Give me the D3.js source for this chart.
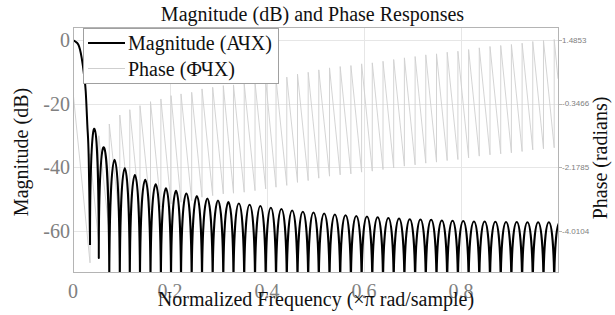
<!DOCTYPE html>
<html>
<head>
<meta charset="utf-8">
<script src="https://cdn.jsdelivr.net/npm/d3@7"></script>
<style>
  body { margin: 0; background: #fff; }
  text { font-family: "Liberation Serif", "DejaVu Serif", serif; }
</style>
</head>
<body>
<script>
// Size of the picture and of the plot box
var width = 615, height = 315;
var plotLeft = 73, plotRight = 558, plotTop = 27, plotBottom = 272;

// ticks
var freqTicks = [0, 0.2, 0.4, 0.6, 0.8];
var magTicks = [0, -20, -40, -60];
var phaseTicks = [1.4853, -0.3466, -2.1785, -4.0104];

// main lobe of the magnitude response
var mainFreq = [0, 0.004, 0.0109, 0.0179, 0.0227, 0.0262, 0.0295, 0.0324, 0.0336, 0.0351];
var mainDb   = [0, -0.4, -1.4, -5.6, -10.9, -16.1, -26.6, -37.1, -47.6, -64.4];

// zeros of the response (last one lies just past Nyquist)
var nullFreq = [0.0351, 0.0532, 0.0748, 0.0965, 0.1171, 0.1381, 0.1598, 0.1812, 0.2021, 0.2227,
                0.2447, 0.2660, 0.2880, 0.3099, 0.3309, 0.3530, 0.3753, 0.3973, 0.4186, 0.4408,
                0.4629, 0.4849, 0.5068, 0.5289, 0.5509, 0.5730, 0.5951, 0.6171, 0.6392, 0.6612,
                0.6833, 0.7054, 0.7274, 0.7495, 0.7715, 0.7936, 0.8157, 0.8377, 0.8598, 0.8819,
                0.9039, 0.9260, 0.9480, 0.9701, 0.9922, 1.0144];
// the first two zeros are only sampled down to these levels, the rest drop out of the box
var shallowNullDb = [-64.4, -68.5];
var nullFloorDb = -80;

// sidelobe peaks, dB
var lobeDb = [-27.9, -33.8, -37.6, -40.3, -42.4, -43.9, -45.3, -46.6, -47.4, -48.2,
              -49.0, -49.8, -50.4, -50.9, -51.4, -51.8, -52.2, -52.7, -53.1, -53.6,
              -54.0, -54.2, -54.5, -54.8, -55.1, -55.3, -55.5, -55.7, -55.9, -56.1,
              -56.3, -56.4, -56.5, -56.7, -56.8, -56.9, -57.0, -57.0, -57.1, -57.2,
              -57.2, -57.3, -57.3, -57.3, -57.3];

// phase (radians): value just before and just after the jump at each zero
var phaseBottom = [-4.925, -4.386, -4.048, -3.789, -3.636, -3.520, -3.405, -3.327, -3.232, -3.183,
                   -3.137, -3.038, -2.992, -2.943, -2.923, -2.894, -2.848, -2.799, -2.750, -2.698,
                   -2.612, -2.560, -2.490, -2.433, -2.395, -2.366, -2.317, -2.288, -2.242, -2.193,
                   -2.144, -2.107, -2.058, -2.029, -1.983, -1.954, -1.905, -1.856, -1.818, -1.789,
                   -1.760, -1.723, -1.674, -1.645, -1.616];
var phaseTop = [-1.789, -1.270, -0.932, -0.673, -0.520, -0.404, -0.289, -0.211, -0.116, -0.067,
                -0.021, 0.078, 0.124, 0.173, 0.193, 0.222, 0.268, 0.317, 0.366, 0.418,
                0.504, 0.556, 0.626, 0.683, 0.721, 0.750, 0.799, 0.828, 0.874, 0.923,
                0.972, 1.009, 1.058, 1.087, 1.133, 1.162, 1.211, 1.260, 1.298, 1.327,
                1.356, 1.393, 1.442, 1.471, 1.500];
var phaseStart = 0, phaseEnd = 0.37;

var x = d3.scaleLinear().domain([0, 1]).range([plotLeft, plotRight]);
var yMag = d3.scaleLinear().domain([-72.9, 4.08]).range([plotBottom, plotTop]);
var yPhase = d3.scaleLinear().domain([-5.190, 1.859]).range([plotBottom, plotTop]);

var svg = d3.select('body').append('svg')
  .attr('width', width)
  .attr('height', height);

svg.append('defs').append('clipPath').attr('id', 'plot-clip')
  .append('rect')
  .attr('x', plotLeft).attr('y', plotTop)
  .attr('width', plotRight - plotLeft).attr('height', plotBottom - plotTop);

// grid
var grid = svg.append('g').attr('stroke', '#e6e6e6').attr('stroke-width', 1);
grid.selectAll('line.v').data(freqTicks.slice(1)).enter().append('line')
  .attr('x1', d => x(d) + 0.5).attr('x2', d => x(d) + 0.5)
  .attr('y1', plotTop).attr('y2', plotBottom);
grid.selectAll('line.h').data(magTicks).enter().append('line')
  .attr('x1', plotLeft).attr('x2', plotRight)
  .attr('y1', d => Math.round(yMag(d)) + 0.5).attr('y2', d => Math.round(yMag(d)) + 0.5);

var plot = svg.append('g').attr('clip-path', 'url(#plot-clip)');

// phase: linear drop over each lobe, jump at each zero
var phasePts = [[0, phaseStart]];
nullFreq.slice(0, phaseTop.length).forEach(function(f, i) {
  phasePts.push([f, phaseBottom[i]]);
  phasePts.push([f, phaseTop[i]]);
});
phasePts.push([1, phaseEnd]);

plot.append('path')
  .attr('d', d3.line().x(d => x(d[0])).y(d => yPhase(d[1]))(phasePts))
  .attr('fill', 'none')
  .attr('stroke', '#cfcfcf')
  .attr('stroke-width', 0.9);

// magnitude: main lobe
plot.append('path')
  .attr('d', d3.line().curve(d3.curveMonotoneX)
    .x((d, i) => x(mainFreq[i])).y(d => yMag(d))(mainDb))
  .attr('fill', 'none')
  .attr('stroke', '#000')
  .attr('stroke-width', 2);

// magnitude: sidelobes, one arch between each pair of zeros
function nullDb(i) {
  return i < shallowNullDb.length ? shallowNullDb[i] : nullFloorDb;
}
var lobes = d3.path();
lobeDb.forEach(function(peak, i) {
  var xL = x(nullFreq[i]), xR = x(nullFreq[i + 1]);
  var yL = yMag(nullDb(i)), yR = yMag(nullDb(i + 1));
  var yC = (yMag(peak) - (yL + yR) / 8) / 0.75;
  if (i === 0) lobes.moveTo(xL, yL);
  lobes.bezierCurveTo(xL, yC, xR, yC, xR, yR);
});
plot.append('path')
  .attr('d', lobes.toString())
  .attr('fill', 'none')
  .attr('stroke', '#000')
  .attr('stroke-width', 2)
  .attr('stroke-linejoin', 'round');

// box
svg.append('rect')
  .attr('x', plotLeft + 0.5).attr('y', plotTop + 0.5)
  .attr('width', plotRight - plotLeft).attr('height', plotBottom - plotTop)
  .attr('fill', 'none').attr('stroke', '#b4b4b4').attr('stroke-width', 1);

// left ticks
svg.selectAll('text.ymag').data(magTicks).enter().append('text')
  .attr('x', 70).attr('y', d => yMag(d)).attr('dy', '0.36em')
  .attr('text-anchor', 'end')
  .attr('font-size', 20).attr('fill', '#808080')
  .text(d => d);

// bottom ticks
svg.selectAll('text.xf').data(freqTicks).enter().append('text')
  .attr('x', d => x(d)).attr('y', 298)
  .attr('text-anchor', 'middle')
  .attr('font-size', 20).attr('fill', '#808080')
  .text(d => d);

// right ticks
svg.selectAll('line.yph').data(phaseTicks).enter().append('line')
  .attr('x1', plotRight).attr('x2', plotRight + 4)
  .attr('y1', d => Math.round(yPhase(d)) + 0.5).attr('y2', d => Math.round(yPhase(d)) + 0.5)
  .attr('stroke', '#b4b4b4');
svg.selectAll('text.yph').data(phaseTicks).enter().append('text')
  .attr('x', plotRight + 4).attr('y', d => yPhase(d)).attr('dy', '0.35em')
  .style('font-family', '"Liberation Sans", Arial, sans-serif')
  .attr('font-size', 8).attr('fill', '#808080')
  .text(d => d.toFixed(4));

// titles
svg.append('text')
  .attr('x', 312.5).attr('y', 21)
  .attr('text-anchor', 'middle').attr('font-size', 20).attr('fill', '#111')
  .text('Magnitude (dB) and Phase Responses');

svg.append('text')
  .attr('x', 316).attr('y', 306)
  .attr('text-anchor', 'middle').attr('font-size', 20).attr('fill', '#111')
  .text('Normalized Frequency (\u00d7\u03c0 rad/sample)');

svg.append('text')
  .attr('transform', 'translate(28,152) rotate(-90)')
  .attr('text-anchor', 'middle').attr('font-size', 20).attr('fill', '#111')
  .text('Magnitude (dB)');

svg.append('text')
  .attr('transform', 'translate(607,158) rotate(-90)')
  .attr('text-anchor', 'middle').attr('font-size', 20).attr('fill', '#111')
  .text('Phase (radians)');

// legend
var legend = svg.append('g');
legend.append('rect')
  .attr('x', 83.5).attr('y', 28.5).attr('width', 195).attr('height', 55)
  .attr('fill', '#fff').attr('stroke', '#a0a0a0');
var legendItems = [
  {label: 'Magnitude (АЧХ)', color: '#000', w: 2},
  {label: 'Phase (ФЧХ)', color: '#cfcfcf', w: 1}
];
legendItems.forEach(function(d, i) {
  var yy = 43 + i * 25.5;
  legend.append('line')
    .attr('x1', 88).attr('x2', 125).attr('y1', yy).attr('y2', yy)
    .attr('stroke', d.color).attr('stroke-width', d.w);
  legend.append('text')
    .attr('x', 128).attr('y', yy + 7)
    .attr('font-size', 20).attr('fill', '#111')
    .text(d.label);
});
</script>
</body>
</html>
